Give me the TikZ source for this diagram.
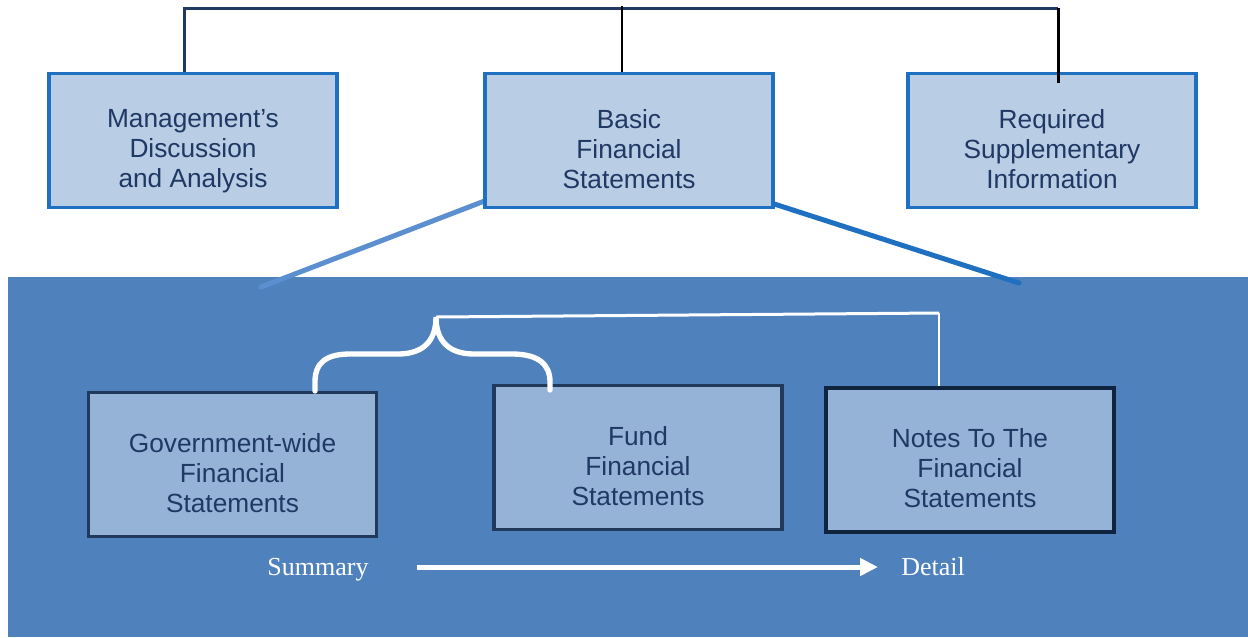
\documentclass[tikz,border=0pt]{standalone}
\usepackage{fontspec}
\setmainfont{Liberation Sans}
\newfontfamily\serifx{Liberation Serif}
\usetikzlibrary{arrows.meta}
\definecolor{topfill}{HTML}{B9CDE5}
\definecolor{topedge}{HTML}{1F70C1}
\definecolor{botfill}{HTML}{95B3D7}
\definecolor{botedge}{HTML}{21395A}
\definecolor{notesedge}{HTML}{0F243E}
\definecolor{bgblue}{HTML}{4F81BD}
\definecolor{navy}{HTML}{1F3864}
\definecolor{txtc}{HTML}{1F3864}
\definecolor{lightline}{HTML}{5B8FD0}
\tikzset{
  topbox/.style={draw=topedge, fill=topfill, line width=2.4pt, minimum width=216pt, minimum height=101pt, inner sep=0pt},
  botbox/.style={draw=botedge, fill=botfill, line width=2.4pt, minimum width=216pt, minimum height=108pt, inner sep=0pt},
  boxtext/.style={text=txtc, align=center, inner sep=0pt, font=\fontsize{19.7pt}{22.5pt}\selectfont},
  sidetext/.style={text=white, inner sep=0pt, anchor=base, font=\serifx\fontsize{19.5pt}{22pt}\selectfont},
  conn/.style={line width=2.25pt},
}
\begin{document}
\begin{tikzpicture}[x=0.75pt,y=-0.75pt]
\useasboundingbox (0,0) rectangle (1248,637);
% background band
\fill[bgblue] (8,277) rectangle (1248,637);
% coordinates
\coordinate (t1) at (184,8);
\coordinate (t2) at (622,6);
\coordinate (t3) at (1058,8);
\coordinate (rsiend) at (1058,83);
\coordinate (lfoot) at (261,287);
\coordinate (rfoot) at (1019,283);
% top boxes
\node[topbox] (mda) at (193,140.5) {};
\node[topbox] (basic) at (629,140.5) {};
\node[topbox] (rsi) at (1052,140.5) {};
% slanted lines
\draw[lightline, line width=3.75pt, line cap=round] (lfoot) -- ([yshift=6pt]basic.south west);
\draw[topedge, line width=3.75pt, line cap=round] ([yshift=4pt]basic.south east) -- (rfoot);
\node[topbox] at (basic) {};
% texts
\node[boxtext] (mdat) at (193,151.5) {Management’s\\Discussion\\and Analysis};
\node[boxtext] (basict) at (629,149.5) {Basic\\Financial\\Statements};
\node[boxtext] (rsit) at (1052,149.5) {Required\\Supplementary\\Information};
% top connectors
\draw[navy, conn] (mda.north -| t1) -- (t1) -- (t3);
\draw[black, line width=1.5pt] (basic.north -| t2) -- (t2);
\draw[black, conn] (t3) -- (rsiend);
% bottom boxes
\node[botbox] (gov) at (232.5,464.5) {};
\node[botbox] (fund) at (638,457.5) {};
\node[botbox, draw=notesedge, line width=3pt] (notes) at (970,460) {};
\node[boxtext] (govt) at (232.5,473.5) {Government-wide\\Financial\\Statements};
\node[boxtext] (fundt) at (638,466.5) {Fund\\Financial\\Statements};
\node[boxtext] (notest) at (970,468.5) {Notes To The\\Financial\\Statements};
% brace
\coordinate (bl) at (315,391);
\coordinate (bt) at (436,317);
\coordinate (br) at (550,390);
\draw[white, line width=4pt, line cap=round]
  (bl) -- (315,382) .. controls (315,362) and (327,354) .. (350,354)
  -- (398,354) .. controls (422,354) and (436,342) .. (bt)
  .. controls (436,342) and (450,354) .. (474,354)
  -- (512,354) .. controls (538,354) and (550,364) .. (550,382) -- (br);
% notes connector
\coordinate (nt) at (939,313);
\draw[white, line width=2.25pt] (bt) -- (nt);
\draw[white, line width=1.5pt] (nt) -- (notes.north -| nt);
% summary -> detail
\node[sidetext] (summary) at (318,575) {Summary};
\node[sidetext] (detail) at (933,575) {Detail};
\draw[white, line width=3.75pt, -{Triangle[length=13.5pt,width=12.75pt]}]
  (417,567) -- (878,567);
\end{tikzpicture}
\end{document}
